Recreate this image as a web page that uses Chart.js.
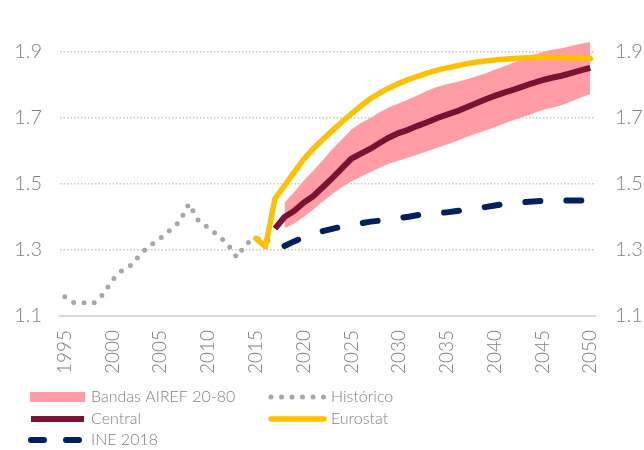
<!DOCTYPE html>
<html>
<head>
<meta charset="utf-8">
<script src="https://cdn.jsdelivr.net/npm/chart.js@4/dist/chart.umd.min.js"></script>
<style>
    body { margin: 0; background: #fff; }
    #wrap { width: 644px; height: 450px; }
</style>
</head>
<body>
<div id="wrap"><canvas id="myChart" width="644" height="450"></canvas></div>
<script>
let years = [
    '1995', '1996', '1997', '1998', '1999', '2000', '2001', '2002', '2003', '2004',
    '2005', '2006', '2007', '2008', '2009', '2010', '2011', '2012', '2013', '2014',
    '2015', '2016', '2017', '2018', '2019', '2020', '2021', '2022', '2023', '2024',
    '2025', '2026', '2027', '2028', '2029', '2030', '2031', '2032', '2033', '2034',
    '2035', '2036', '2037', '2038', '2039', '2040', '2041', '2042', '2043', '2044',
    '2045', '2046', '2047', '2048', '2049', '2050',
];
// 1995-2017
let historico = [1.158, 1.14, 1.14, 1.138, 1.165, 1.21, 1.238, 1.255, 1.29, 1.315,
    1.335, 1.36, 1.385, 1.44, 1.388, 1.368, 1.345, 1.32, 1.278, 1.32,
    1.333, 1.335, 1.31];
// 2018-2050
let bandaInf = [1.366, 1.38, 1.40, 1.423, 1.447, 1.47, 1.49, 1.508, 1.522, 1.536,
    1.55, 1.562, 1.571, 1.58, 1.59, 1.60, 1.61, 1.62, 1.63, 1.642,
    1.652, 1.662, 1.672, 1.683, 1.694, 1.704, 1.714, 1.724, 1.731, 1.739,
    1.75, 1.762, 1.773];
let bandaSup = [1.443, 1.475, 1.51, 1.54, 1.572, 1.605, 1.635, 1.665, 1.685, 1.70,
    1.718, 1.733, 1.745, 1.757, 1.77, 1.783, 1.795, 1.802, 1.809, 1.817,
    1.826, 1.835, 1.846, 1.857, 1.868, 1.879, 1.89, 1.90, 1.907, 1.911,
    1.918, 1.925, 1.93];
// 2017-2050
let central = [1.365, 1.40, 1.418, 1.443, 1.463, 1.49, 1.518, 1.547, 1.577, 1.592,
    1.607, 1.625, 1.642, 1.655, 1.665, 1.677, 1.688, 1.70, 1.71, 1.72,
    1.732, 1.744, 1.756, 1.767, 1.777, 1.786, 1.796, 1.806, 1.815, 1.822,
    1.828, 1.836, 1.844, 1.852];
// 2015-2050
let eurostat = [1.335, 1.31, 1.456, 1.495, 1.535, 1.575, 1.607, 1.635, 1.662, 1.688,
    1.713, 1.737, 1.759, 1.776, 1.792, 1.805, 1.817, 1.827, 1.837, 1.845,
    1.852, 1.858, 1.864, 1.869, 1.873, 1.876, 1.878, 1.88, 1.882, 1.883,
    1.884, 1.884, 1.883, 1.882, 1.881, 1.88];
// 2018-2050
let ine2018 = [1.312, 1.326, 1.338, 1.348, 1.357, 1.364, 1.371, 1.377, 1.381, 1.386,
    1.389, 1.393, 1.397, 1.401, 1.406, 1.41, 1.412, 1.414, 1.418, 1.422,
    1.426, 1.43, 1.435, 1.439, 1.442, 1.445, 1.447, 1.449, 1.45, 1.45,
    1.45, 1.45, 1.45];
let yTicks = [1.1, 1.3, 1.5, 1.7, 1.9];

let fontFamily = 'Lato, "Open Sans", sans-serif';
let textColor = '#808080';

function pad(values, firstYear) {
    let start = years.indexOf(firstYear);
    return years.map((y, i) => (i >= start && i - start < values.length) ? values[i - start] : null);
}

// legend drawn under the chart, two columns
let legendItems = [
    { ds: 1, text: 'Bandas AIREF 20-80', x: 28, y: 397, box: true },
    { ds: 2, text: 'Histórico', x: 268, y: 397 },
    { ds: 3, text: 'Central', x: 28, y: 419 },
    { ds: 4, text: 'Eurostat', x: 268, y: 419 },
    { ds: 5, text: 'INE 2018', x: 28, y: 440, dash: [13, 22] },
];

let bottomLegend = {
    id: 'bottomLegend',
    afterDraw(chart) {
        let c = chart.ctx;
        c.save();
        legendItems.forEach(item => {
            let ds = chart.data.datasets[item.ds];
            if (item.box) {
                c.fillStyle = ds.backgroundColor;
                c.fillRect(item.x + 2, item.y - 5, 55, 10);
            } else {
                c.beginPath();
                c.strokeStyle = ds.borderColor;
                c.lineWidth = ds.borderWidth;
                c.lineCap = ds.borderCapStyle || 'round';
                c.setLineDash(item.dash || ds.borderDash || []);
                c.moveTo(item.x + 3, item.y);
                c.lineTo(item.x + 56, item.y);
                c.stroke();
                c.setLineDash([]);
            }
            c.fillStyle = '#7f7f7f';
            c.font = '300 16px ' + fontFamily;
            c.textBaseline = 'middle';
            c.textAlign = 'left';
            c.fillText(item.text, item.x + 63, item.y);
        });
        c.restore();
    }
};

function fixYAxis(width) {
    return function (scale) {
        scale.width = width;
        scale.paddingTop = 0;
        scale.paddingBottom = 0;
    };
}

let ctx = document.getElementById('myChart').getContext('2d');
let myChart = new Chart(ctx, {
    type: 'line',
    data: {
        labels: years,
        datasets: [{
            label: 'Bandas AIREF 20-80 inf',
            data: pad(bandaInf, '2018'),
            borderWidth: 0,
            pointRadius: 0,
            fill: false,
            order: 10,
        }, {
            label: 'Bandas AIREF 20-80',
            data: pad(bandaSup, '2018'),
            borderWidth: 0,
            pointRadius: 0,
            backgroundColor: '#ff9ca4',
            fill: '-1',
            order: 9,
        }, {
            label: 'Histórico',
            data: pad(historico, '1995'),
            borderColor: '#a6a6a6',
            borderWidth: 5,
            borderDash: [0, 10.5],
            borderCapStyle: 'round',
            pointRadius: 0,
            order: 5,
        }, {
            label: 'Central',
            data: pad(central, '2017'),
            borderColor: '#7a1232',
            borderWidth: 6,
            borderJoinStyle: 'round',
            borderCapStyle: 'butt',
            pointRadius: 0,
            order: 3,
        }, {
            label: 'Eurostat',
            data: pad(eurostat, '2015'),
            borderColor: '#ffc000',
            borderWidth: 5.5,
            borderJoinStyle: 'round',
            borderCapStyle: 'round',
            pointRadius: 0,
            order: 2,
        }, {
            label: 'INE 2018',
            data: pad(ine2018, '2018'),
            borderColor: '#002060',
            borderWidth: 6,
            borderDash: [15, 26],
            borderCapStyle: 'round',
            pointRadius: 0,
            order: 4,
        }]
    },
    options: {
        responsive: false,
        animation: false,
        layout: { padding: { top: 19, bottom: 70 } },
        plugins: {
            legend: { display: false },
            tooltip: { enabled: false },
        },
        elements: { line: { tension: 0 } },
        scales: {
            x: {
                type: 'category',
                offset: true,
                grid: { display: false, drawTicks: false },
                border: { display: true, color: '#d9d9d9', width: 2 },
                ticks: {
                    autoSkip: false,
                    maxRotation: 90,
                    minRotation: 90,
                    padding: 14,
                    color: textColor,
                    font: { family: fontFamily, size: 19, weight: '300' },
                    callback: function (value) {
                        let year = this.getLabelForValue(value);
                        return Number(year) % 5 === 0 ? year : '';
                    },
                },
                afterFit: function (scale) { scale.height = 64; },
            },
            y: {
                position: 'left',
                min: 1.1,
                max: 2.0,
                afterBuildTicks: function (scale) { scale.ticks = yTicks.map(v => ({ value: v })); },
                grid: { color: '#c8c8c8', lineWidth: 1.5, drawTicks: false },
                border: { display: false, dash: [1.5, 2] },
                ticks: {
                    padding: 18,
                    color: textColor,
                    font: { family: fontFamily, size: 20, weight: '300' },
                    callback: v => v.toFixed(1),
                },
                afterFit: fixYAxis(60),
            },
            y2: {
                position: 'right',
                min: 1.1,
                max: 2.0,
                afterBuildTicks: function (scale) { scale.ticks = yTicks.map(v => ({ value: v })); },
                grid: { display: false, drawTicks: false },
                border: { display: false },
                ticks: {
                    padding: 20,
                    color: textColor,
                    font: { family: fontFamily, size: 20, weight: '300' },
                    callback: v => v.toFixed(1),
                },
                afterFit: fixYAxis(49),
            },
        },
    },
    plugins: [bottomLegend],
});
</script>
</body>
</html>
